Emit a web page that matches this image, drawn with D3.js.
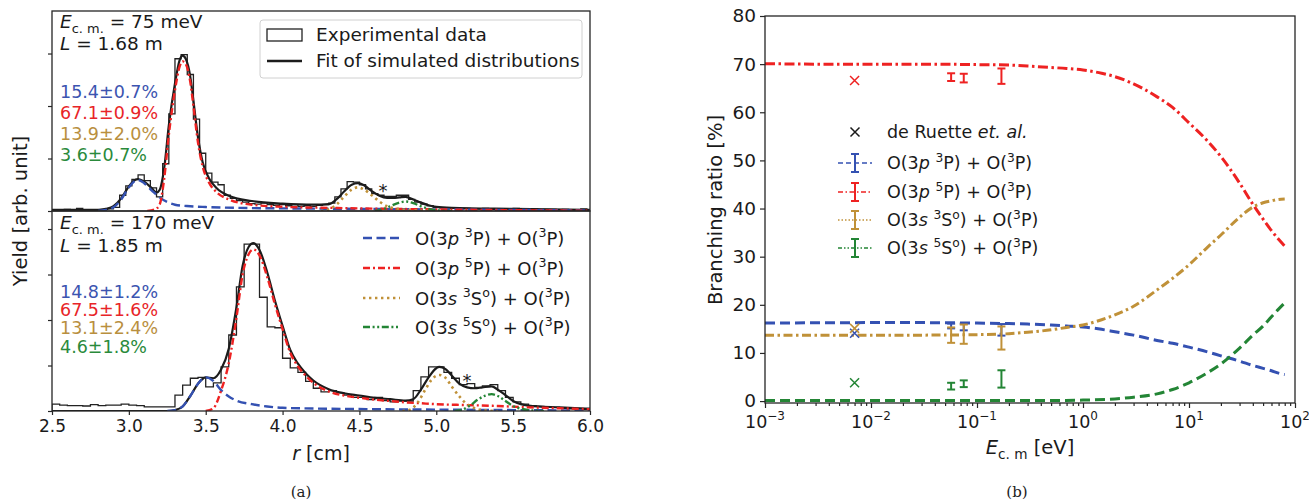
<!DOCTYPE html>
<html><head><meta charset="utf-8">
<script src="https://cdn.jsdelivr.net/npm/d3@7"></script>
<style>
body{margin:0;background:#fff}
svg{font-family:"DejaVu Sans",sans-serif}
</style></head><body>
<svg id="fig" width="1309" height="500"></svg>
<script>
// ---------- (a) radial distributions ----------
const rTicks = [2.5, 3.0, 3.5, 4.0, 4.5, 5.0, 5.5, 6.0];

// histogram, E = 75 meV (bin start, width, counts)
const histTopStart = 2.5, histTopWidth = 0.04;
const histTop = [0.02,0.02,0.03,0.02,0.05,0.02,0.02,0.02,0.03,0.04,
  0.07,0.30,0.48,0.60,0.69,0.58,0.44,0.27,0.90,1.85,
  2.90,2.98,2.60,1.75,1.10,0.72,0.55,0.50,0.30,0.24,
  0.20,0.17,0.14,0.13,0.15,0.12,0.11,0.12,0.10,0.12,
  0.09,0.10,0.09,0.11,0.12,0.15,0.27,0.42,0.56,0.55,
  0.50,0.42,0.33,0.30,0.28,0.28,0.30,0.30,0.22,0.17,
  0.13,0.10,0.07,0.06,0.06,0.05,0.04,0.05,0.04,0.04,
  0.05,0.03,0.04,0.04,0.03,0.05,0.03,0.03,0.04,0.02,
  0.03,0.03,0.02,0.03,0.02,0.02,0.04,0.02];

// histogram, E = 170 meV
const histBotStart = 2.5, histBotWidth = 0.05;
const histBot = [0.15,0.13,0.12,0.12,0.11,0.14,0.12,0.13,0.13,0.15,
  0.13,0.12,0.09,0.09,0.09,0.09,0.35,0.57,0.72,0.74,
  0.53,0.62,0.97,1.67,2.73,3.67,3.67,2.50,1.85,1.83,
  1.16,0.95,0.85,0.65,0.50,0.42,0.45,0.40,0.35,0.30,
  0.30,0.25,0.30,0.23,0.20,0.22,0.22,0.45,0.75,0.97,
  0.97,0.85,0.72,0.58,0.60,0.52,0.55,0.58,0.45,0.30,
  0.20,0.15,0.12,0.10,0.09,0.08,0.06,0.05,0.04,0.03];

// simulated components [r, yield], E = 75 meV
const p3Top = [[2.8,0],[2.85,0.02],[2.9,0.07],[2.95,0.22],[3.0,0.45],[3.03,0.55],[3.06,0.59],[3.1,0.53],[3.15,0.39],[3.2,0.26],[3.25,0.17],[3.3,0.12],[3.4,0.09],[3.5,0.075],[3.7,0.06],[4.0,0.05],[4.5,0.04],[5.0,0.03],[5.5,0.02],[6.0,0.01]];
const p5Top = [[3.12,0],[3.17,0.03],[3.2,0.12],[3.23,0.62],[3.26,1.45],[3.3,2.3],[3.33,2.75],[3.35,2.85],[3.37,2.8],[3.4,2.45],[3.42,2.0],[3.45,1.3],[3.48,0.85],[3.52,0.55],[3.57,0.36],[3.65,0.22],[3.8,0.12],[4.0,0.08],[4.3,0.06],[4.6,0.045],[5.0,0.03],[5.5,0.015],[6.0,0.005]];
const s3Top = [[4.25,0],[4.3,0.03],[4.35,0.12],[4.4,0.27],[4.45,0.41],[4.49,0.45],[4.53,0.41],[4.58,0.3],[4.63,0.18],[4.68,0.09],[4.75,0.04],[4.85,0.015],[5.0,0]];
const s5Top = [[4.6,0],[4.65,0.03],[4.7,0.09],[4.75,0.15],[4.8,0.18],[4.85,0.15],[4.9,0.09],[4.95,0.04],[5.0,0.015],[5.1,0]];
const fitTop = [[2.5,0.02],[2.8,0.02],[2.85,0.04],[2.9,0.09],[2.95,0.24],[3.0,0.47],[3.03,0.57],[3.06,0.61],[3.1,0.56],[3.15,0.43],[3.18,0.35],[3.2,0.4],[3.23,0.82],[3.26,1.63],[3.3,2.43],[3.33,2.87],[3.35,2.96],[3.37,2.9],[3.4,2.55],[3.42,2.1],[3.45,1.4],[3.48,0.93],[3.52,0.63],[3.57,0.44],[3.65,0.29],[3.8,0.19],[4.0,0.14],[4.2,0.12],[4.3,0.13],[4.35,0.22],[4.4,0.37],[4.45,0.5],[4.49,0.53],[4.53,0.49],[4.58,0.38],[4.63,0.29],[4.68,0.25],[4.72,0.25],[4.76,0.26],[4.8,0.27],[4.85,0.22],[4.9,0.16],[4.95,0.11],[5.0,0.08],[5.1,0.06],[5.5,0.04],[6.0,0.02]];

// simulated components [r, yield], E = 170 meV
const p3Bot = [[3.25,0],[3.3,0.02],[3.35,0.1],[3.4,0.33],[3.45,0.6],[3.5,0.74],[3.55,0.66],[3.6,0.46],[3.65,0.32],[3.7,0.23],[3.8,0.15],[3.9,0.1],[4.0,0.07],[4.3,0.05],[4.6,0.04],[5.0,0.03],[5.5,0.02],[6.0,0.01]];
const p5Bot = [[3.5,0],[3.55,0.06],[3.6,0.45],[3.65,1.05],[3.7,2.05],[3.74,3.0],[3.78,3.45],[3.81,3.55],[3.85,3.42],[3.9,2.95],[3.95,2.35],[4.0,1.8],[4.05,1.28],[4.1,0.98],[4.15,0.78],[4.2,0.62],[4.3,0.43],[4.4,0.34],[4.5,0.29],[4.6,0.25],[4.7,0.22],[4.8,0.19],[4.9,0.17],[5.0,0.15],[5.2,0.13],[5.4,0.11],[5.6,0.08],[5.8,0.06],[6.0,0.04]];
const s3Bot = [[4.78,0],[4.83,0.03],[4.88,0.19],[4.93,0.48],[4.98,0.73],[5.02,0.79],[5.06,0.73],[5.1,0.54],[5.15,0.32],[5.2,0.15],[5.25,0.06],[5.3,0.02],[5.4,0]];
const s5Bot = [[5.12,0],[5.17,0.03],[5.22,0.12],[5.27,0.25],[5.32,0.34],[5.36,0.37],[5.4,0.33],[5.45,0.22],[5.5,0.11],[5.55,0.05],[5.6,0.02],[5.7,0]];
const fitBot = [[2.5,0],[3.25,0],[3.3,0.02],[3.35,0.1],[3.4,0.33],[3.45,0.6],[3.5,0.74],[3.55,0.72],[3.6,0.91],[3.65,1.37],[3.7,2.28],[3.74,3.19],[3.78,3.61],[3.81,3.69],[3.85,3.54],[3.9,3.05],[3.95,2.43],[4.0,1.87],[4.05,1.34],[4.1,1.04],[4.15,0.83],[4.2,0.67],[4.3,0.48],[4.4,0.39],[4.5,0.34],[4.6,0.29],[4.7,0.26],[4.8,0.23],[4.85,0.26],[4.9,0.47],[4.95,0.74],[5.0,0.94],[5.02,0.97],[5.06,0.92],[5.1,0.78],[5.15,0.6],[5.2,0.52],[5.25,0.5],[5.3,0.52],[5.36,0.54],[5.4,0.47],[5.45,0.35],[5.5,0.22],[5.55,0.15],[5.6,0.12],[5.8,0.08],[6.0,0.05]];

const fracTop = ["15.4±0.7%", "67.1±0.9%", "13.9±2.0%", "3.6±0.7%"];
const fracBot = ["14.8±1.2%", "67.5±1.6%", "13.1±2.4%", "4.6±1.8%"];

// ---------- (b) branching ratios vs collision energy ----------
const eDecades = [1e-3, 1e-2, 1e-1, 1e0, 1e1, 1e2];
const eDecadeExp = ["−3", "−2", "−1", "0", "1", "2"];
const brTicks = [0, 10, 20, 30, 40, 50, 60, 70, 80];

const modelP3 = [[0.001,16.2],[0.01,16.3],[0.03,16.3],[0.1,16.2],[0.2,16.1],[0.3,16.0],[0.5,15.8],[0.7,15.6],[1,15.4],[1.5,14.9],[2,14.4],[3,13.7],[5,12.6],[7,12.0],[10,11.2],[15,10.2],[20,9.4],[30,8.3],[40,7.4],[50,6.8],[60,6.3],[70,5.8],[80,5.5]];
const modelP5 = [[0.001,70.1],[0.003,70.0],[0.01,70.0],[0.03,70.0],[0.1,69.9],[0.2,69.8],[0.3,69.6],[0.5,69.3],[0.7,69.1],[1,68.8],[1.5,68.1],[2,67.4],[3,65.9],[5,63.2],[7,61.0],[10,57.8],[15,54.0],[20,50.8],[30,45.3],[40,40.9],[50,37.8],[60,35.4],[70,33.6],[80,32.2]];
const modelS3 = [[0.001,13.7],[0.01,13.7],[0.03,13.7],[0.1,13.8],[0.2,14.0],[0.3,14.3],[0.5,14.8],[0.7,15.3],[1,15.8],[1.5,16.9],[2,17.9],[3,19.7],[5,23.1],[7,25.5],[10,28.3],[15,32.0],[20,34.5],[30,38.2],[40,40.3],[50,41.2],[60,41.6],[70,41.9],[80,42.0]];
const modelS5 = [[0.001,0.1],[0.1,0.1],[0.5,0.12],[1,0.2],[2,0.45],[3,0.8],[5,1.5],[7,2.4],[10,3.8],[15,5.9],[20,7.7],[30,11.0],[40,13.7],[50,15.6],[60,17.5],[70,19.1],[80,20.4]];

const measE = [0.057, 0.075, 0.17];
const measP3 = [15.6, 15.4, 14.8], errP3 = [0.5, 0.7, 1.2];
const measP5 = [67.3, 67.1, 67.5], errP5 = [0.8, 0.9, 1.6];
const measS3 = [13.7, 13.9, 13.1], errS3 = [1.6, 2.0, 2.4];
const measS5 = [3.1, 3.6, 4.6], errS5 = [0.7, 0.7, 1.8];

const ruetteE = 0.007;
const ruetteP3 = 14.1, ruetteP5 = 66.6, ruetteS3 = 15.1, ruetteS5 = 3.8;

// ---------- styles ----------
const C = {p3: "#3451b2", p5: "#ee2222", s3: "#c09138", s5: "#238535", axis: "#262626"};
const TXT = {p3: "#3c54b0", p5: "#e82428", s3: "#b98f3e", s5: "#2a8a3b"};

const svg = d3.select("#fig");

// text with italic / superscript / subscript pieces
function rich(parent, x, y, parts, size, anchor) {
  const t = parent.append("text").attr("x", x).attr("y", y)
    .attr("font-size", size).attr("fill", "#1a1a1a")
    .attr("text-anchor", anchor || "start");
  let shift = 0;
  parts.forEach(p => {
    const s = p.sup ? -size * 0.42 : p.sub ? size * 0.25 : 0;
    const ts = t.append("tspan").text(p.t);
    if (s !== shift) { ts.attr("dy", s - shift); shift = s; }
    if (p.sup || p.sub) ts.attr("font-size", size * 0.7);
    if (p.i) ts.attr("font-style", "italic");
  });
  return t;
}
const label = {
  p3: [{t:"O(3"},{t:"p",i:1},{t:" "},{t:"3",sup:1},{t:"P) + O("},{t:"3",sup:1},{t:"P)"}],
  p5: [{t:"O(3"},{t:"p",i:1},{t:" "},{t:"5",sup:1},{t:"P) + O("},{t:"3",sup:1},{t:"P)"}],
  s3: [{t:"O(3"},{t:"s",i:1},{t:" "},{t:"3",sup:1},{t:"S"},{t:"o",sup:1},{t:") + O("},{t:"3",sup:1},{t:"P)"}],
  s5: [{t:"O(3"},{t:"s",i:1},{t:" "},{t:"5",sup:1},{t:"S"},{t:"o",sup:1},{t:") + O("},{t:"3",sup:1},{t:"P)"}]
};

// ================= panel (a) =================
const xL = d3.scaleLinear().domain([2.5, 6.0]).range([52, 590]);
const yTop = d3.scaleLinear().domain([0, 3.81]).range([211, 11]);
const yBot = d3.scaleLinear().domain([0, 4.396]).range([411, 211]);

const defs = svg.append("defs");
defs.append("clipPath").attr("id", "clipTop").append("rect")
  .attr("x", 52).attr("y", 11).attr("width", 538).attr("height", 200);
defs.append("clipPath").attr("id", "clipBot").append("rect")
  .attr("x", 52).attr("y", 211).attr("width", 538).attr("height", 200);
defs.append("clipPath").attr("id", "clipR").append("rect")
  .attr("x", 765).attr("y", 16).attr("width", 530).attr("height", 387);

const dash = {p3: "9,4.5", p5: "7,3,2,3", s3: "2.4,3.6", s5: "7,2.6,2,2.6,2,2.6"};

function panelA(y, hist, start, width, comps, fit, clip) {
  const g = svg.append("g").attr("clip-path", `url(#${clip})`);
  // step histogram
  const pts = [[start, 0]];
  hist.forEach((v, i) => { pts.push([start + i * width, v]); pts.push([start + (i + 1) * width, v]); });
  pts.push([start + hist.length * width, 0]);
  g.append("path").attr("d", d3.line().x(d => xL(d[0])).y(d => y(d[1]))(pts))
    .attr("fill", "none").attr("stroke", "#222").attr("stroke-width", 1.3);
  const line = d3.line().x(d => xL(d[0])).y(d => y(d[1])).curve(d3.curveMonotoneX);
  g.append("path").attr("d", line(fit)).attr("fill", "none")
    .attr("stroke", "#1c1c1c").attr("stroke-width", 2.2);
  ["p3", "p5", "s3", "s5"].forEach(k => {
    g.append("path").attr("d", line(comps[k])).attr("fill", "none")
      .attr("stroke", C[k]).attr("stroke-width", k === "s3" ? 2.6 : 2.4)
      .attr("stroke-dasharray", dash[k]);
  });
}
panelA(yTop, histTop, histTopStart, histTopWidth, {p3: p3Top, p5: p5Top, s3: s3Top, s5: s5Top}, fitTop, "clipTop");
panelA(yBot, histBot, histBotStart, histBotWidth, {p3: p3Bot, p5: p5Bot, s3: s3Bot, s5: s5Bot}, fitBot, "clipBot");

// frames
[[11, 211], [211, 411]].forEach(([a, b]) => {
  svg.append("rect").attr("x", 52).attr("y", a).attr("width", 538).attr("height", b - a)
    .attr("fill", "none").attr("stroke", C.axis).attr("stroke-width", 1.3);
});
// axes
function styleAxis(g, fs) {
  g.select(".domain").remove();
  g.selectAll("line").attr("stroke", C.axis).attr("stroke-width", 1.2);
  g.selectAll("text").attr("fill", "#1a1a1a").attr("font-size", fs || 17.5)
    .attr("font-family", "DejaVu Sans");
}
svg.append("g").attr("transform", "translate(52,0)")
  .call(d3.axisLeft(yTop).tickValues([0, 1, 2, 3]).tickFormat("").tickSize(4)).call(styleAxis);
svg.append("g").attr("transform", "translate(52,0)")
  .call(d3.axisLeft(yBot).tickValues([0, 1, 2, 3, 4]).tickFormat("").tickSize(4)).call(styleAxis);
svg.append("g").attr("transform", "translate(0,411)")
  .call(d3.axisBottom(xL).tickValues(rTicks).tickFormat(d3.format(".1f")).tickSize(4).tickPadding(5))
  .call(g => styleAxis(g, 17));

rich(svg, 321, 460, [{t:"r", i:1}, {t:" [cm]"}], 19, "middle");
svg.append("text").attr("transform", "translate(27,211) rotate(-90)")
  .attr("text-anchor", "middle").attr("font-size", 19.5).attr("fill", "#1a1a1a")
  .text("Yield [arb. unit]");

// annotations
rich(svg, 60, 28, [{t:"E", i:1}, {t:"c. m.", sub:1}, {t:" = 75 meV"}], 18.5);
rich(svg, 60, 50, [{t:"L", i:1}, {t:" = 1.68 m"}], 18.5);
rich(svg, 60, 229, [{t:"E", i:1}, {t:"c. m.", sub:1}, {t:" = 170 meV"}], 18.5);
rich(svg, 60, 252, [{t:"L", i:1}, {t:" = 1.85 m"}], 18.5);
const keys = ["p3", "p5", "s3", "s5"];
const topRows = [98, 119, 140, 161], botRows = [298, 316, 334, 353];
fracTop.forEach((s, i) => svg.append("text").attr("x", 60).attr("y", topRows[i])
  .attr("font-size", 17.5).attr("fill", TXT[keys[i]]).text(s));
fracBot.forEach((s, i) => svg.append("text").attr("x", 60).attr("y", botRows[i])
  .attr("font-size", 17.5).attr("fill", TXT[keys[i]]).text(s));
svg.append("text").attr("x", 383).attr("y", 197).attr("font-size", 18)
  .attr("text-anchor", "middle").attr("fill", "#1a1a1a").text("*");
svg.append("text").attr("x", 467).attr("y", 387).attr("font-size", 18)
  .attr("text-anchor", "middle").attr("fill", "#1a1a1a").text("*");

// legend, top panel
const lg = svg.append("g");
lg.append("rect").attr("x", 260).attr("y", 20).attr("width", 322).attr("height", 58).attr("rx", 3)
  .attr("fill", "#fff").attr("fill-opacity", 0.85).attr("stroke", "#d0d0d0").attr("stroke-width", 1);
lg.append("rect").attr("x", 267).attr("y", 29).attr("width", 35).attr("height", 12)
  .attr("fill", "none").attr("stroke", "#222").attr("stroke-width", 1.3);
lg.append("line").attr("x1", 267).attr("x2", 302).attr("y1", 61).attr("y2", 61)
  .attr("stroke", "#1c1c1c").attr("stroke-width", 2.4);
lg.append("text").attr("x", 316).attr("y", 41).attr("font-size", 18.5).attr("fill", "#1a1a1a").text("Experimental data");
lg.append("text").attr("x", 316).attr("y", 67).attr("font-size", 18.5).attr("fill", "#1a1a1a").text("Fit of simulated distributions");

// legend, bottom panel
const lgRows = [238, 268, 298, 327];
keys.forEach((k, i) => {
  svg.append("line").attr("x1", 363).attr("x2", 400).attr("y1", lgRows[i]).attr("y2", lgRows[i])
    .attr("stroke", C[k]).attr("stroke-width", k === "s3" ? 2.6 : 2.4).attr("stroke-dasharray", dash[k]);
  rich(svg, 415, lgRows[i] + 6.5, label[k], 18);
});

svg.append("text").attr("x", 301).attr("y", 497).attr("font-size", 15)
  .attr("font-family", "DejaVu Serif").attr("text-anchor", "middle").attr("fill", "#222").text("(a)");

// ================= panel (b) =================
const xR = d3.scaleLog().domain([1e-3, 1e2]).range([765, 1295]);
const yR = d3.scaleLinear().domain([-0.4, 80]).range([403, 16]);
const gR = svg.append("g").attr("clip-path", "url(#clipR)");
const lineR = d3.line().x(d => xR(d[0])).y(d => yR(d[1])).curve(d3.curveMonotoneX);
const modelStyle = [
  [modelP3, C.p3, "10,5"],
  [modelP5, C.p5, "10,3.5,2.5,3.5"],
  [modelS3, C.s3, "9,3.5,2.5,3.5"],
  [modelS5, C.s5, "10,5"]
];
modelStyle.forEach(([data, col, da]) => {
  gR.append("path").attr("d", lineR(data)).attr("fill", "none")
    .attr("stroke", col).attr("stroke-width", 3).attr("stroke-dasharray", da);
});

// measured branching ratios with error bars
function errBars(vals, errs, col) {
  vals.forEach((v, i) => {
    const x = xR(measE[i]), y0 = yR(v - errs[i]), y1 = yR(v + errs[i]);
    gR.append("line").attr("x1", x).attr("x2", x).attr("y1", y0).attr("y2", y1)
      .attr("stroke", col).attr("stroke-width", 2);
    [y0, y1].forEach(yy => gR.append("line").attr("x1", x - 4).attr("x2", x + 4)
      .attr("y1", yy).attr("y2", yy).attr("stroke", col).attr("stroke-width", 2));
  });
}
errBars(measP3, errP3, C.p3);
errBars(measP5, errP5, C.p5);
errBars(measS3, errS3, C.s3);
errBars(measS5, errS5, C.s5);

function cross(g, x, y, col) {
  const s = 4.5;
  g.append("path").attr("d", `M${x - s},${y - s}L${x + s},${y + s}M${x - s},${y + s}L${x + s},${y - s}`)
    .attr("stroke", col).attr("stroke-width", 1.5).attr("fill", "none");
}
[[ruetteP3, C.p3], [ruetteP5, C.p5], [ruetteS3, C.s3], [ruetteS5, C.s5]]
  .forEach(([v, col]) => cross(gR, xR(ruetteE), yR(v), col));

// frame & axes
svg.append("rect").attr("x", 765).attr("y", 16).attr("width", 530).attr("height", 387)
  .attr("fill", "none").attr("stroke", C.axis).attr("stroke-width", 1.3);
svg.append("g").attr("transform", "translate(765,0)")
  .call(d3.axisLeft(yR).tickValues(brTicks).tickFormat(d3.format("d")).tickSize(5).tickPadding(4))
  .call(g => styleAxis(g, 18.5));
const minor = [];
eDecades.slice(0, -1).forEach(d => { for (let m = 2; m <= 9; m++) minor.push(d * m); });
svg.append("g").attr("transform", "translate(0,403)")
  .call(d3.axisBottom(xR).tickValues(minor).tickFormat("").tickSize(3)).call(styleAxis);
svg.append("g").attr("transform", "translate(0,403)")
  .call(d3.axisBottom(xR).tickValues(eDecades).tickFormat("").tickSize(5)).call(styleAxis);
eDecades.forEach((d, i) => {
  const t = svg.append("text").attr("x", xR(d)).attr("y", 428).attr("text-anchor", "middle")
    .attr("font-size", 17.5).attr("fill", "#1a1a1a");
  t.append("tspan").text("10");
  t.append("tspan").attr("dy", -8).attr("font-size", 12).text(eDecadeExp[i]);
});
rich(svg, 1030, 454, [{t:"E", i:1}, {t:"c. m", sub:1}, {t:" [eV]"}], 19.5, "middle");
svg.append("text").attr("transform", "translate(722,210) rotate(-90)")
  .attr("text-anchor", "middle").attr("font-size", 19.5).attr("fill", "#1a1a1a")
  .text("Branching ratio [%]");

// legend, panel (b)
const lrRows = [132, 163, 192, 220, 248];
cross(svg, 855, lrRows[0], "#1a1a1a");
rich(svg, 887, lrRows[0] + 6, [{t:"de Ruette "}, {t:"et. al.", i:1}], 17.5);
const handleDash = {p3: "5,3", p5: "5,2.5,1.5,2.5", s3: "1.5,2", s5: "4,2,1.5,2,1.5,2"};
keys.forEach((k, i) => {
  const y = lrRows[i + 1];
  svg.append("line").attr("x1", 838).attr("x2", 872).attr("y1", y).attr("y2", y)
    .attr("stroke", C[k]).attr("stroke-width", 1.6).attr("stroke-dasharray", handleDash[k]);
  svg.append("line").attr("x1", 855).attr("x2", 855).attr("y1", y - 9).attr("y2", y + 9)
    .attr("stroke", C[k]).attr("stroke-width", 2);
  [y - 9, y + 9].forEach(yy => svg.append("line").attr("x1", 851).attr("x2", 859)
    .attr("y1", yy).attr("y2", yy).attr("stroke", C[k]).attr("stroke-width", 2));
  rich(svg, 887, y + 6, label[k], 17.5);
});

svg.append("text").attr("x", 1017).attr("y", 497).attr("font-size", 15)
  .attr("font-family", "DejaVu Serif").attr("text-anchor", "middle").attr("fill", "#222").text("(b)");
</script></body></html>
